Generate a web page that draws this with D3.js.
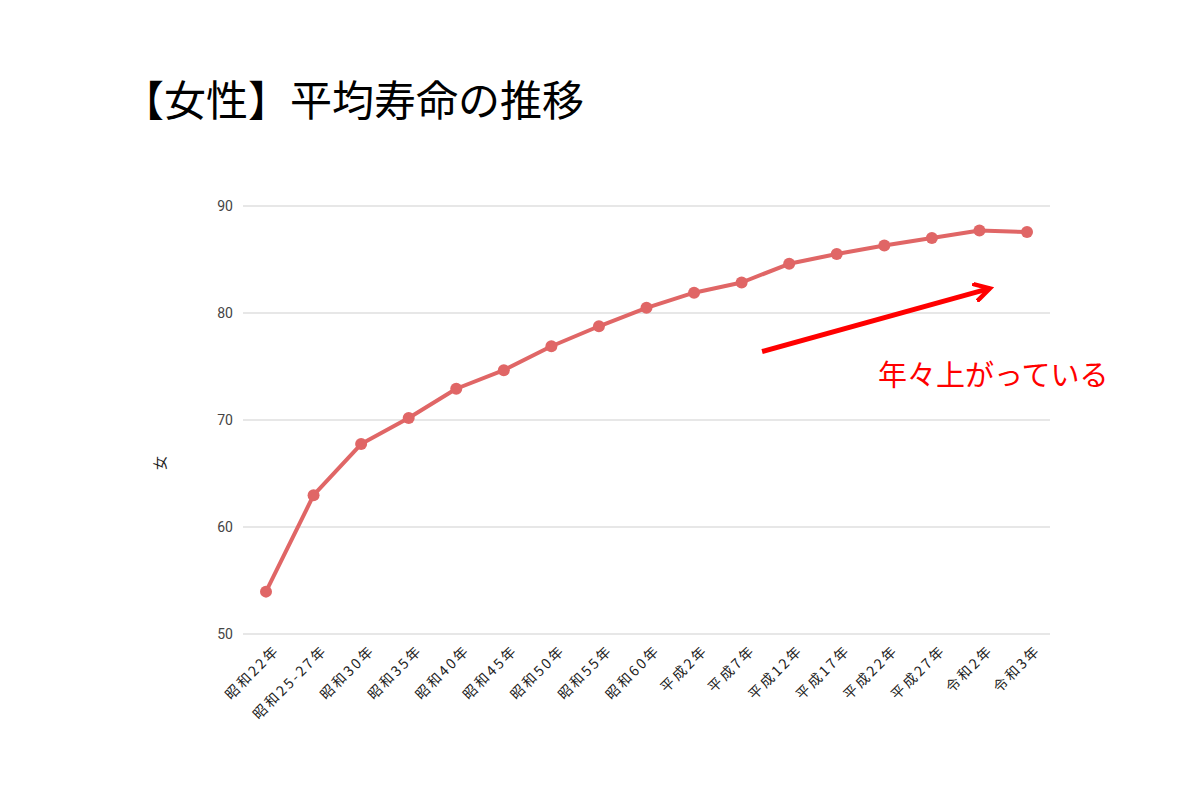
<!DOCTYPE html>
<html lang="ja">
<head>
  <meta charset="UTF-8" />
  <title>【女性】平均寿命の推移</title>
  <style>
    body { margin: 0; background: #fff; }
    svg text { font-family: "Noto Sans CJK JP", "Noto Sans", sans-serif; }
  </style>
</head>
<body>
  <div id="chart"></div>

  <script src="https://cdn.jsdelivr.net/npm/d3@7"></script>
  <script>
    // Data
    const years = ["昭和22年", "昭和25-27年", "昭和30年", "昭和35年", "昭和40年", "昭和45年",
      "昭和50年", "昭和55年", "昭和60年", "平成2年", "平成7年", "平成12年", "平成17年",
      "平成22年", "平成27年", "令和2年", "令和3年"];
    const lifeSpan = [53.96, 62.97, 67.75, 70.19, 72.92, 74.66, 76.89, 78.76, 80.48,
      81.90, 82.85, 84.60, 85.52, 86.30, 87.01, 87.71, 87.57];
    const yTicks = [50, 60, 70, 80, 90];

    const width = 1200, height = 800;
    const svg = d3.select("#chart").append("svg")
      .attr("width", width)
      .attr("height", height);

    // Title
    svg.append("text")
      .attr("x", 122)
      .attr("y", 116)
      .style("font-size", "42px")
      .style("fill", "#000")
      .text("【女性】平均寿命の推移");

    // Scales
    const x = d3.scalePoint().domain(years).range([266, 1027]);
    const y = d3.scaleLinear().domain([50, 90]).range([634, 206]);

    // Gridlines
    svg.append("g")
      .selectAll("line")
      .data(yTicks)
      .join("line")
      .attr("x1", 243)
      .attr("x2", 1050)
      .attr("y1", d => y(d))
      .attr("y2", d => y(d))
      .attr("stroke", "#cfcfcf")
      .attr("stroke-width", 1);

    // Y axis labels
    const yAxis = svg.append("g")
      .attr("transform", "translate(240,0)")
      .call(d3.axisLeft(y).tickValues(yTicks).tickSize(0).tickPadding(7));
    yAxis.select(".domain").remove();
    yAxis.selectAll("text")
      .style("font-size", "14px")
      .style("font-family", "Roboto, 'Noto Sans', sans-serif")
      .style("fill", "#444");

    // Y axis title
    svg.append("text")
      .attr("transform", "translate(165,463) rotate(-90)")
      .attr("text-anchor", "middle")
      .style("font-size", "14px")
      .style("fill", "#222")
      .text("女");

    // X axis labels (spaced out a little, like the original)
    const xAxis = svg.append("g")
      .attr("transform", "translate(0,634)")
      .call(d3.axisBottom(x).tickSize(0).tickPadding(0));
    xAxis.select(".domain").remove();
    xAxis.selectAll("text")
      .attr("text-anchor", "end")
      .attr("dy", null)
      .attr("y", 0)
      .attr("transform", "translate(14,17) rotate(-45)")
      .style("font-size", "14px")
      .style("letter-spacing", "2.5px")
      .style("fill", "#222");

    // Line
    const line = d3.line()
      .x((d, i) => x(years[i]))
      .y(d => y(d));

    svg.append("path")
      .datum(lifeSpan)
      .attr("d", line)
      .attr("fill", "none")
      .attr("stroke", "#e06666")
      .attr("stroke-width", 4)
      .attr("stroke-linejoin", "round");

    svg.append("g")
      .selectAll("circle")
      .data(lifeSpan)
      .join("circle")
      .attr("cx", (d, i) => x(years[i]))
      .attr("cy", d => y(d))
      .attr("r", 6)
      .attr("fill", "#e06666");

    // Annotation arrow (placed in data space)
    const step = x.step();
    const arrowFrom = { i: 10.43, v: 76.4 };
    const arrowTo = { i: 15.22, v: 82.3 };
    const ax1 = x(years[0]) + arrowFrom.i * step, ay1 = y(arrowFrom.v);
    const ax2 = x(years[0]) + arrowTo.i * step, ay2 = y(arrowTo.v);

    svg.append("defs").append("marker")
      .attr("id", "arrowHead")
      .attr("viewBox", "0 0 10 10")
      .attr("refX", 8)
      .attr("refY", 5)
      .attr("markerWidth", 4)
      .attr("markerHeight", 4)
      .attr("orient", "auto")
      .append("path")
      .attr("d", "M1,1 L8,5 L1,9")
      .attr("fill", "none")
      .attr("stroke", "#ff0000")
      .attr("stroke-width", 2.2)
      .attr("stroke-linecap", "square")
      .attr("stroke-linejoin", "miter");

    svg.append("line")
      .attr("x1", ax1).attr("y1", ay1)
      .attr("x2", ax2).attr("y2", ay2)
      .attr("stroke", "#ff0000")
      .attr("stroke-width", 5)
      .attr("marker-end", "url(#arrowHead)");

    svg.append("text")
      .attr("x", 878)
      .attr("y", 386)
      .style("font-size", "29px")
      .style("fill", "#ff0000")
      .text("年々上がっている");
  </script>
</body>
</html>
